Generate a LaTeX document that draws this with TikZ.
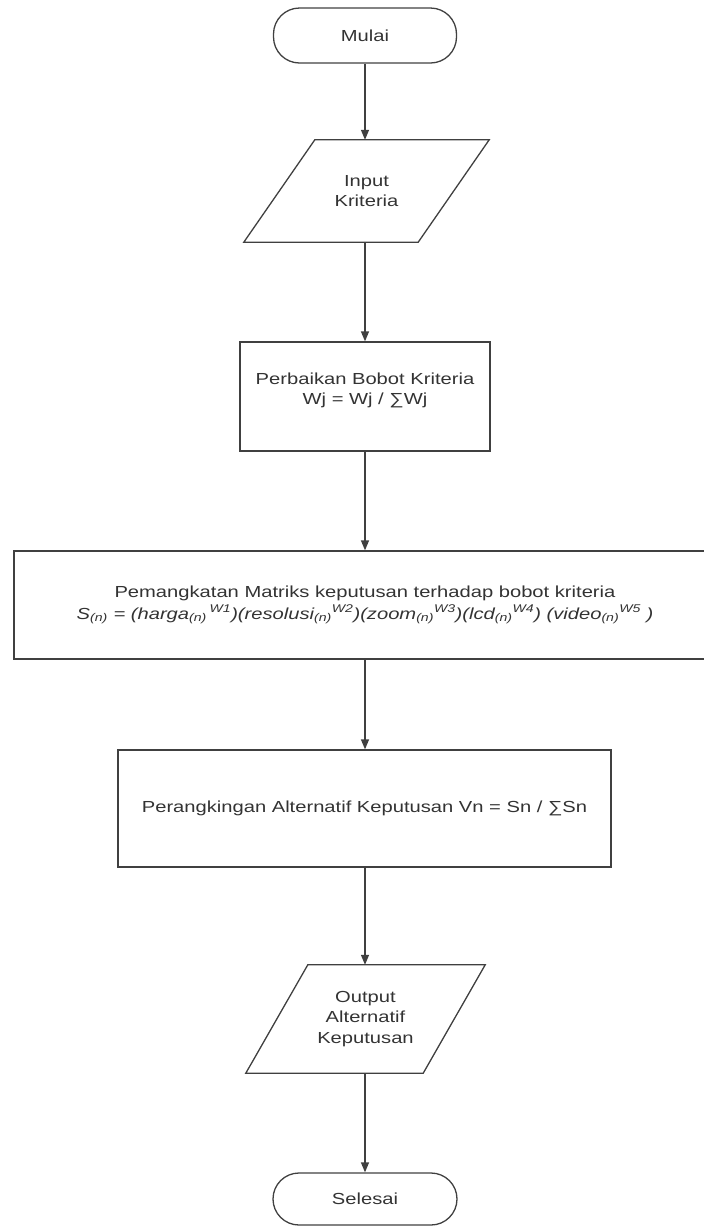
\documentclass[tikz,border=0pt]{standalone}
\usepackage{fontspec}
\setmainfont[FakeStretch=1.26]{Liberation Sans}
\usetikzlibrary{arrows.meta,calc}
\begin{document}
\begin{tikzpicture}[x=1pt,y=1pt,
  ink/.style={draw=black!75, line width=1.3pt},
  lbl/.style={text=black!80, font=\fontsize{16}{20.5}\selectfont, align=center, inner sep=0pt},
  terminal/.style={ink, lbl, rectangle, rounded corners=26pt},
  process/.style={ink, lbl, rectangle},
  iobody/.style={lbl, rectangle},
  flow/.style={draw=black!75, line width=1.3pt, -{Triangle[length=10pt,width=8pt]}}
]
\useasboundingbox (0,0) rectangle (704,-1227);

% start / end terminals
\node[terminal, minimum width=183pt, minimum height=55pt] (mulai) at (365,-35.5) {Mulai};
\node[terminal, minimum width=184pt, minimum height=52pt] (selesai) at (365,-1199) {Selesai};

% input parallelogram
\node[iobody, minimum width=174pt, minimum height=102pt] (inp) at (366.5,-191) {Input\\Kriteria};
\draw[ink] ($(inp.south west)+(-35.5,0)$) -- ($(inp.south east)+(-35.5,0)$)
  -- ($(inp.north east)+(35.5,0)$) -- ($(inp.north west)+(35.5,0)$) -- cycle;

% weight normalisation
\node[process, minimum width=250pt, minimum height=109pt] (perb) at (365,-396.5) {};
\node[lbl] (perbtxt) at ([yshift=6]perb.center) {Perbaikan Bobot Kriteria\\Wj = Wj / ∑Wj};

% exponentiation of the decision matrix
\node[process, minimum width=702pt, minimum height=108pt] (pangkat) at (365,-605) {};
\node[lbl] (pangkattxt) at (pangkat.center) {Pemangkatan Matriks keputusan terhadap bobot kriteria\\[1pt]
  \textit{S\textsubscript{(n)} = (harga\textsubscript{(n)}\,\textsuperscript{W1})(resolusi\textsubscript{(n)}\textsuperscript{W2})(zoom\textsubscript{(n)}\textsuperscript{W3})(lcd\textsubscript{(n)}\textsuperscript{W4}) (video\textsubscript{(n)}\textsuperscript{W5} )}};

% ranking
\node[process, minimum width=493pt, minimum height=117pt] (rank) at (364.5,-808.5) {};
\node[lbl] (ranktxt) at (rank.center) {Perangkingan Alternatif Keputusan Vn = Sn / ∑Sn};

% output parallelogram
\node[iobody, minimum width=177pt, minimum height=108pt] (outp) at (365.5,-1019) {Output\\Alternatif\\Keputusan};
\draw[ink] ($(outp.south west)+(-31,0)$) -- ($(outp.south east)+(-31,0)$)
  -- ($(outp.north east)+(31,0)$) -- ($(outp.north west)+(31,0)$) -- cycle;

% connectors
\draw[flow] (mulai.south) -- (mulai.south |- inp.north);
\draw[flow] (mulai.south |- inp.south) -- (mulai.south |- perb.north);
\draw[flow] (perb.south) -- (perb.south |- pangkat.north);
\draw[flow] (pangkat.south) -- (pangkat.south |- rank.north);
\draw[flow] (pangkat.south |- rank.south) -- (pangkat.south |- outp.north);
\draw[flow] (pangkat.south |- outp.south) -- (selesai.north);
\end{tikzpicture}
\end{document}
